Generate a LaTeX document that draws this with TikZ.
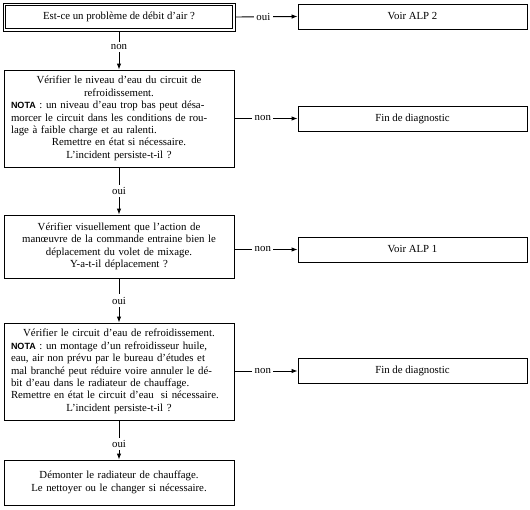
\documentclass[tikz,border=0pt]{standalone}
\usepackage{fontspec}
\setmainfont{Liberation Serif}
\newfontfamily\notafont{Liberation Sans}
\usetikzlibrary{arrows.meta}
\newcommand\notaword{{\notafont\bfseries\fontsize{9}{12.4}\selectfont NOTA}}
\begin{document}
\begin{tikzpicture}[x=1pt,y=-1pt,
  txt/.style={font=\fontsize{10.8}{12.4}\selectfont},
  lbox/.style={draw, line width=0.9pt, minimum width=230pt, inner sep=0pt, txt},
  rbox/.style={draw, line width=0.9pt, minimum width=229pt, minimum height=25pt, inner sep=0pt, txt},
  wide/.style={text width=216pt},
  arr/.style={-{Latex[length=6pt,width=4.5pt]}, line width=0.9pt},
  lab/.style={fill=white, inner sep=2.5pt, txt}]
\useasboundingbox (0,0) rectangle (530,509);
\fill[white] (0,0) rectangle (530,509);

\node[lbox, minimum width=232pt, minimum height=28pt] (b1) at (119,17) {Est-ce un problème de débit d’air ?};
\draw[line width=0.9pt] ([shift={(3,3)}]b1.north west) rectangle ([shift={(-3,-3)}]b1.south east);
\node[rbox] (alp2) at (412.5,16.5) {Voir ALP 2};

\node[lbox, wide, minimum height=97pt] (b2) at (119,118.5) {%
{\centering Vérifier le niveau d’eau du circuit de\\refroidissement.\par}%
{\raggedright \notaword{} : un niveau d’eau trop bas peut désa-\\morcer le circuit dans les conditions de rou-\\lage à faible charge et au ralenti.\par}%
{\centering Remettre en état si nécessaire.\\L’incident persiste-t-il ?\par}};
\node[rbox] (fin1) at (412.5,118.5) {Fin de diagnostic};

\node[lbox, wide, minimum height=63pt] (b3) at (119,246.5) {%
{\centering Vérifier visuellement que l’action de\\manœuvre de la commande entraine bien le\\déplacement du volet de mixage.\\Y-a-t-il déplacement ?\par}};
\node[rbox] (alp1) at (412.5,249.5) {Voir ALP 1};

\node[lbox, wide, minimum height=97pt] (b4) at (119,371.5) {%
{\centering Vérifier le circuit d’eau de refroidissement.\par}%
{\raggedright \notaword{} : un montage d’un refroidisseur huile,\\eau, air non prévu par le bureau d’études et\\mal branché peut réduire voire annuler le dé-\\bit d’eau dans le radiateur de chauffage.\\Remettre en état le circuit d’eau \ si nécessaire.\par}%
{\centering L’incident persiste-t-il ?\par}};
\node[rbox] (fin2) at (412.5,371) {Fin de diagnostic};

\node[lbox, wide, minimum height=45pt] (b5) at (119,482.5) {%
{\centering Démonter le radiateur de chauffage.\\Le nettoyer ou le changer si nécessaire.\par}};

\draw[arr] (b1.east) -- node[lab, pos=0.45] {oui} (alp2.west);
\draw[arr] (b1.south) -- node[lab, pos=0.4] {non} (b2.north);
\draw[arr] (b2.east) -- node[lab, pos=0.45] {non} (fin1.west);
\draw[arr] (b2.south) -- node[lab] {oui} (b3.north);
\draw[arr] (alp1.west -| b3.east) -- node[lab, pos=0.45] {non} (alp1.west);
\draw[arr] (b3.south) -- node[lab] {oui} (b4.north);
\draw[arr] (fin2.west -| b4.east) -- node[lab, pos=0.45] {non} (fin2.west);
\draw[arr] (b4.south) -- node[lab, pos=0.6] {oui} (b5.north);
\end{tikzpicture}
\end{document}
